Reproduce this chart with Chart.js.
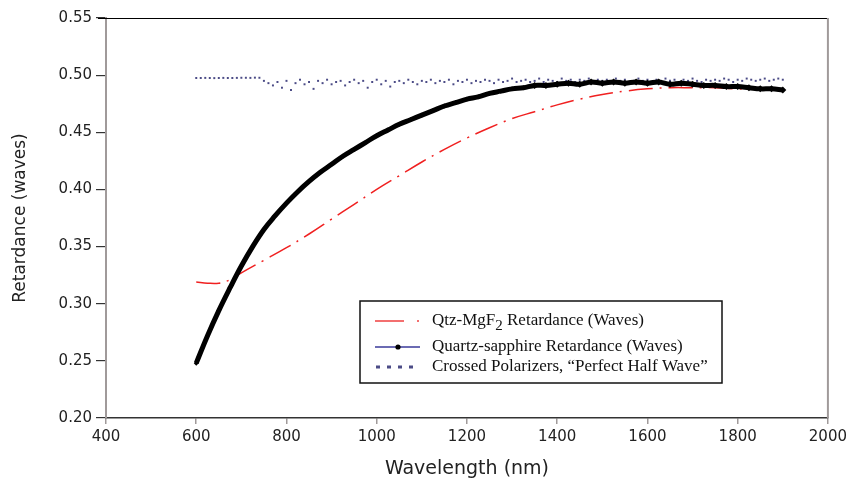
<!DOCTYPE html>
<html>
<head>
<meta charset="utf-8">
<script src="https://cdn.jsdelivr.net/npm/chart.js@4/dist/chart.umd.min.js"></script>
<style>
  html, body { margin: 0; padding: 0; background: #fff; }
  #wrap { width: 851px; height: 483px; }
</style>
</head>
<body>
<div id="wrap"><canvas id="retardanceChart"></canvas></div>
<script>
"use strict";

/// DATA
const xTicks = [400, 600, 800, 1000, 1200, 1400, 1600, 1800, 2000];
const yTicks = [0.20, 0.25, 0.30, 0.35, 0.40, 0.45, 0.50, 0.55];

// Qtz-MgF2 retardance (red dash-dot)
const mgf2Wavelength = [600, 625, 650, 675, 700, 750, 800, 850, 900, 950, 1000, 1050, 1100, 1150, 1200,
    1250, 1300, 1350, 1400, 1450, 1500, 1550, 1600, 1650, 1700, 1750, 1800, 1850, 1900];
const mgf2Retardance = [0.319, 0.318, 0.318, 0.321, 0.327, 0.338, 0.349, 0.361, 0.374, 0.387, 0.400, 0.412, 0.424, 0.435, 0.445,
    0.454, 0.462, 0.468, 0.474, 0.479, 0.483, 0.486, 0.488, 0.489, 0.489, 0.489, 0.488, 0.488, 0.487];

// Quartz-sapphire retardance (thick black)
const sapphireWavelength = [600, 625, 650, 675, 700, 725, 750, 775, 800, 825, 850, 875, 900, 925, 950, 975,
    1000, 1025, 1050, 1075, 1100, 1125, 1150, 1175, 1200, 1225, 1250, 1275, 1300, 1325, 1350, 1375,
    1400, 1425, 1450, 1475, 1500, 1525, 1550, 1575, 1600, 1625, 1650, 1675, 1700, 1725, 1750, 1775,
    1800, 1825, 1850, 1875, 1900];
const sapphireRetardance = [0.248, 0.272, 0.294, 0.314, 0.333, 0.350, 0.365, 0.377, 0.388, 0.398, 0.407, 0.415, 0.422, 0.429, 0.435, 0.441,
    0.447, 0.452, 0.457, 0.461, 0.465, 0.469, 0.473, 0.476, 0.479, 0.481, 0.484, 0.486, 0.488, 0.489, 0.491, 0.491,
    0.492, 0.493, 0.492, 0.494, 0.493, 0.494, 0.493, 0.494, 0.493, 0.494, 0.492, 0.493, 0.492, 0.491, 0.491, 0.490,
    0.490, 0.489, 0.488, 0.488, 0.487];

// Crossed polarizers, "perfect half wave" (navy dots)
const crossedWavelength = [600, 610, 620, 630, 640, 650, 660, 670, 680, 690, 700, 710, 720, 730, 740,
    750, 760, 770, 780, 790, 800, 810, 820, 830, 840,
    850, 860, 870, 880, 890, 900, 910, 920, 930, 940,
    950, 960, 970, 980, 990, 1000, 1010, 1020, 1030, 1040,
    1050, 1060, 1070, 1080, 1090, 1100, 1110, 1120, 1130, 1140,
    1150, 1160, 1170, 1180, 1190, 1200, 1210, 1220, 1230, 1240,
    1250, 1260, 1270, 1280, 1290, 1300, 1310, 1320, 1330, 1340,
    1350, 1360, 1370, 1380, 1390, 1400, 1410, 1420, 1430, 1440,
    1450, 1460, 1470, 1480, 1490, 1500, 1510, 1520, 1530, 1540,
    1550, 1560, 1570, 1580, 1590, 1600, 1610, 1620, 1630, 1640,
    1650, 1660, 1670, 1680, 1690, 1700, 1710, 1720, 1730, 1740,
    1750, 1760, 1770, 1780, 1790, 1800, 1810, 1820, 1830, 1840,
    1850, 1860, 1870, 1880, 1890, 1900];
const crossedRetardance = [0.4975, 0.4975, 0.4976, 0.4975, 0.4974, 0.4975, 0.4976, 0.4975, 0.4975, 0.4976, 0.4977, 0.4977, 0.4976, 0.4978, 0.4977,
    0.495, 0.493, 0.491, 0.494, 0.489, 0.495, 0.487, 0.493, 0.496, 0.492,
    0.494, 0.488, 0.495, 0.493, 0.496, 0.492, 0.494, 0.495, 0.491, 0.494,
    0.496, 0.493, 0.495, 0.489, 0.494, 0.496, 0.492, 0.495, 0.490, 0.494,
    0.495, 0.493, 0.496, 0.494, 0.492, 0.495, 0.494, 0.496, 0.493, 0.495,
    0.494, 0.496, 0.492, 0.495, 0.494, 0.496, 0.493, 0.495, 0.494, 0.496,
    0.495, 0.493, 0.496, 0.494, 0.495, 0.497, 0.494, 0.495, 0.496, 0.494,
    0.495, 0.497, 0.494, 0.496, 0.495, 0.494, 0.497, 0.495, 0.496, 0.494,
    0.496, 0.495, 0.497, 0.494, 0.496, 0.495, 0.496, 0.494, 0.497, 0.495,
    0.496, 0.494, 0.495, 0.497, 0.495, 0.496, 0.494, 0.496, 0.495, 0.497,
    0.495, 0.496, 0.494, 0.496, 0.495, 0.497, 0.495, 0.494, 0.496, 0.495,
    0.496, 0.495, 0.497, 0.496, 0.494, 0.496, 0.495, 0.497, 0.496, 0.495,
    0.496, 0.497, 0.495, 0.496, 0.497, 0.496];

const toPoints = (xs, ys) => xs.map((x, i) => ({ x: x, y: ys[i] }));

/// CHART
const ctx = document.getElementById('retardanceChart');

const axisGray = '#a09a9a';
const tickFont = { family: 'DejaVu Sans', size: 15 };

// legend box with the subscript in MgF2 and frame lines round the plot
const framePlugin = {
    id: 'frame',
    afterDraw(chart) {
        const c = chart.ctx;
        const a = chart.chartArea;
        c.save();
        // top border (black) and right border (gray)
        c.strokeStyle = '#000';
        c.lineWidth = 1.2;
        c.beginPath();
        c.moveTo(a.left - 8, a.top + 0.5);
        c.lineTo(a.right, a.top + 0.5);
        c.stroke();
        c.strokeStyle = axisGray;
        c.lineWidth = 2;
        c.beginPath();
        c.moveTo(a.right, a.top);
        c.lineTo(a.right, a.bottom);
        c.stroke();

        // legend box
        const bx = 360, by = 301, bw = 362, bh = 82;
        c.fillStyle = '#fff';
        c.fillRect(bx, by, bw, bh);
        c.strokeStyle = '#111';
        c.lineWidth = 1.5;
        c.strokeRect(bx, by, bw, bh);

        const textX = 432;
        const rows = [321, 347, 367];
        c.font = '17px "Liberation Serif"';
        c.fillStyle = '#111';
        c.textBaseline = 'middle';

        // row 1: red dash-dot
        c.strokeStyle = '#f04040';
        c.lineWidth = 1.5;
        c.beginPath();
        c.moveTo(375, rows[0]); c.lineTo(404, rows[0]);
        c.moveTo(417, rows[0]); c.lineTo(419, rows[0]);
        c.stroke();
        let t = 'Qtz-MgF';
        c.fillText(t, textX, rows[0]);
        let w = c.measureText(t).width;
        c.font = '15px "Liberation Serif"';
        c.fillText('2', textX + w, rows[0] + 5);
        const w2 = c.measureText('2').width;
        c.font = '17px "Liberation Serif"';
        c.fillText(' Retardance (Waves)', textX + w + w2, rows[0]);

        // row 2: blue line with black marker
        c.strokeStyle = '#3a3a9a';
        c.lineWidth = 1.3;
        c.beginPath();
        c.moveTo(375, rows[1]); c.lineTo(420, rows[1]);
        c.stroke();
        c.fillStyle = '#000';
        c.beginPath();
        c.arc(398, rows[1], 2.6, 0, Math.PI * 2);
        c.fill();
        c.fillStyle = '#111';
        c.fillText('Quartz-sapphire Retardance (Waves)', textX, rows[1]);

        // row 3: navy dots
        c.fillStyle = '#4b4b86';
        [376, 387, 398, 409].forEach(px => c.fillRect(px, rows[2] - 1.5, 4, 3));
        c.fillStyle = '#111';
        c.fillText('Crossed Polarizers, \u201CPerfect Half Wave\u201D', textX, rows[2]);
        c.restore();
    }
};

const config = {
    type: 'scatter',
    data: {
        datasets: [
            {
                label: 'Quartz-sapphire Retardance (Waves)',
                data: toPoints(sapphireWavelength, sapphireRetardance),
                showLine: true,
                borderColor: '#000',
                backgroundColor: '#000',
                borderWidth: 5,
                tension: 0.4,
                pointStyle: 'rectRot',
                pointRadius: (c) => (c.raw && c.raw.x >= 1350 ? 3.5 : 2.5),
                pointBorderWidth: 0,
                order: 1
            },
            {
                label: 'Qtz-MgF2 Retardance (Waves)',
                data: toPoints(mgf2Wavelength, mgf2Retardance),
                showLine: true,
                borderColor: '#f02020',
                borderWidth: 1.5,
                borderDash: [24, 7, 2, 7],
                tension: 0.4,
                pointRadius: 0,
                order: 2
            },
            {
                label: 'Crossed Polarizers, "Perfect Half Wave"',
                data: toPoints(crossedWavelength, crossedRetardance),
                showLine: false,
                backgroundColor: '#4b4b86',
                borderWidth: 0,
                pointStyle: 'rect',
                pointRadius: 1.4,
                order: 3
            }
        ]
    },
    options: {
        responsive: true,
        maintainAspectRatio: false,
        animation: false,
        layout: { padding: { top: 18, right: 23, left: 0, bottom: 0 } },
        plugins: {
            legend: { display: false },
            tooltip: { enabled: false }
        },
        scales: {
            x: {
                type: 'linear',
                min: 400,
                max: 2000,
                afterBuildTicks: (scale) => { scale.ticks = xTicks.map(v => ({ value: v })); },
                afterFit: (scale) => { scale.height = 65; },
                ticks: { font: tickFont, color: '#222', padding: 4, callback: (v) => String(v) },
                grid: { drawOnChartArea: false, color: axisGray, tickLength: 6, lineWidth: 1.5 },
                border: { color: '#333', width: 1.5 },
                title: {
                    display: true,
                    text: 'Wavelength (nm)',
                    font: { family: 'DejaVu Sans', size: 19 },
                    color: '#222',
                    padding: { top: 0, bottom: 3 }
                }
            },
            y: {
                min: 0.2,
                max: 0.55,
                afterBuildTicks: (scale) => { scale.ticks = yTicks.map(v => ({ value: v })); },
                afterFit: (scale) => { scale.width = 106; },
                ticks: {
                    font: tickFont,
                    color: '#222',
                    padding: 4,
                    callback: (v) => v.toFixed(2)
                },
                grid: { drawOnChartArea: false, color: '#333', tickLength: 10, lineWidth: 1.2 },
                border: { color: axisGray, width: 2 },
                title: {
                    display: true,
                    text: 'Retardance (waves)',
                    font: { family: 'DejaVu Sans', size: 17 },
                    color: '#222',
                    padding: { top: 10, bottom: 0 }
                }
            }
        }
    },
    plugins: [framePlugin]
};

var retardanceChart = new Chart(ctx, config);
</script>
</body>
</html>
